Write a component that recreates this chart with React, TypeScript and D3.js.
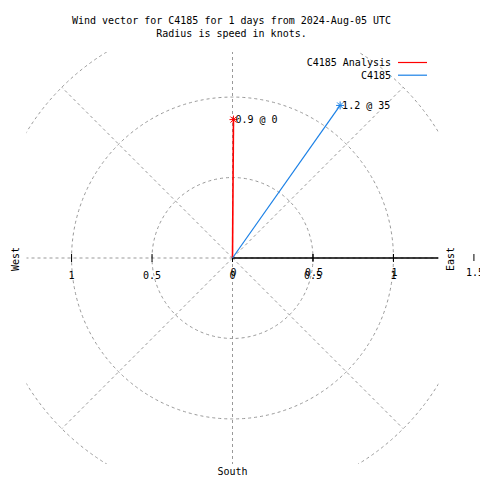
import React from "react";
import * as d3 from "d3";

const titleLines = ["Wind vector for C4185 for 1 days from 2024-Aug-05 UTC", "Radius is speed in knots."];
const seriesNames = ["C4185 Analysis", "C4185"];
const seriesColors = ["#ff0000", "#1a80e6"];
const speeds = [0.86, 1.16]; // knots
const directions = [0.4, 35.2]; // degrees, clockwise from north
const gridRadii = [0.5, 1, 1.5];
const gridAngles = [0, 45, 90, 135, 180, 225, 270, 315];
const xTicks = [-1, -0.5, 0, 0.5, 1];
const rTicks = [0, 0.5, 1, 1.5];

const W = 480, H = 480;
const cx = 232.5, cy = 258, half = 206, span = 1.28;
const FONT = "'DejaVu Sans Mono', monospace";

export default function App() {
  const x = d3.scaleLinear().domain([-span, span]).range([cx - half, cx + half]);
  const y = d3.scaleLinear().domain([-span, span]).range([cy + half, cy - half]);
  const r = d3.scaleLinear().domain([0, span]).range([0, half]);
  const grid = "#999999";
  const dash = "3,3";
  const rad = (deg: number) => (deg * Math.PI) / 180;
  const fmt = (v: number) => String(Math.abs(v));

  return (
    <svg width={W} height={H} style={{ position: "absolute", left: 0, top: 0, background: "#fff" }}>
      <defs>
        <clipPath id="plotclip">
          <rect x={cx - half} y={cy - half} width={half * 2} height={half * 2} />
        </clipPath>
      </defs>
      <rect width={W} height={H} fill="#fff" />
      {titleLines.map((t, i) => (
        <text key={i} x={231.5} y={24 + i * 13} textAnchor="middle" fontFamily={FONT} fontSize={10}>
          {t}
        </text>
      ))}
      <g clipPath="url(#plotclip)">
        {gridRadii.map((g) => (
          <circle key={g} cx={x(0)} cy={y(0)} r={r(g)} fill="none" stroke={grid} strokeWidth={1} strokeDasharray={dash} />
        ))}
        {gridAngles.map((a) => (
          <line
            key={a}
            x1={x(0)}
            y1={y(0)}
            x2={x(Math.sin(rad(a)) * 1.5)}
            y2={y(Math.cos(rad(a)) * 1.5)}
            stroke={grid}
            strokeWidth={1}
            strokeDasharray={dash}
          />
        ))}
        <line x1={x(0)} y1={y(0)} x2={x(span)} y2={y(0)} stroke="#000" strokeWidth={1.3} />
      </g>
      {xTicks.map((t) => (
        <g key={"xt" + t}>
          <line x1={x(t)} x2={x(t)} y1={cy - 4} y2={cy + 4} stroke="#000" strokeWidth={1} />
          <text x={x(t)} y={278.5} textAnchor="middle" fontFamily={FONT} fontSize={10}>
            {fmt(t)}
          </text>
        </g>
      ))}
      {rTicks.map((t) => (
        <g key={"rt" + t}>
          <line x1={x(0) + r(t)} x2={x(0) + r(t)} y1={cy - 4} y2={cy + 3} stroke="#000" strokeWidth={1} />
          <text x={x(0) + r(t) + 1} y={276} textAnchor="middle" fontFamily={FONT} fontSize={10}>
            {fmt(t)}
          </text>
        </g>
      ))}
      <text transform={`translate(19,259) rotate(-90)`} textAnchor="middle" fontFamily={FONT} fontSize={10}>
        West
      </text>
      <text transform={`translate(454,259) rotate(-90)`} textAnchor="middle" fontFamily={FONT} fontSize={10}>
        East
      </text>
      <text x={232.5} y={475} textAnchor="middle" fontFamily={FONT} fontSize={10}>
        South
      </text>
      {speeds.map((s, i) => {
        const tx = x(Math.sin(rad(directions[i])) * s);
        const ty = y(Math.cos(rad(directions[i])) * s);
        const c = seriesColors[i];
        const m = 4;
        return (
          <g key={"v" + i}>
            <line x1={x(0)} y1={y(0)} x2={tx} y2={ty} stroke={c} strokeWidth={i === 0 ? 1.6 : 1.2} />
            <line x1={tx - m} x2={tx + m} y1={ty} y2={ty} stroke={c} strokeWidth={1} />
            <line x1={tx} x2={tx} y1={ty - m} y2={ty + m} stroke={c} strokeWidth={1} />
            <line x1={tx - 3} x2={tx + 3} y1={ty - 3} y2={ty + 3} stroke={c} strokeWidth={1} />
            <line x1={tx - 3} x2={tx + 3} y1={ty + 3} y2={ty - 3} stroke={c} strokeWidth={1} />
            <text x={tx + 2} y={ty + 3.5} fontFamily={FONT} fontSize={10}>
              {`${s.toFixed(1)} @ ${Math.round(directions[i])}`}
            </text>
          </g>
        );
      })}
      {seriesNames.map((n, i) => (
        <g key={"lg" + i}>
          <text x={391} y={66 + i * 12.7} textAnchor="end" fontFamily={FONT} fontSize={10}>
            {n}
          </text>
          <line x1={398} x2={427} y1={62.5 + i * 12.7} y2={62.5 + i * 12.7} stroke={seriesColors[i]} strokeWidth={1.2} />
        </g>
      ))}
    </svg>
  );
}
